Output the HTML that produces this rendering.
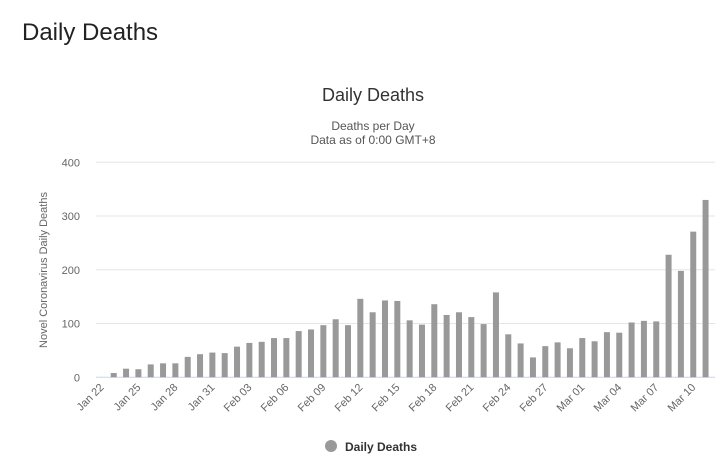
<!DOCTYPE html>
<html><head><meta charset="utf-8"><style>
body{margin:0;background:#fff;font-family:"Liberation Sans",sans-serif;}
#wrap{position:relative;width:723px;height:470px;overflow:hidden;}
h1{position:absolute;left:22px;top:19px;margin:0;font-size:24px;font-weight:normal;color:#222;}
</style></head><body>
<div id="wrap">
<h1>Daily Deaths</h1>
<svg id="chart" width="723" height="470" style="position:absolute;left:0;top:0"></svg>
</div>
<script>
const startDate = [2020, 0, 22];
const values = [0,8,16,15,24,26,26,38,43,46,45,57,64,66,73,73,86,89,97,108,97,146,121,143,142,106,98,136,116,121,112,99,158,80,63,37,58,65,54,73,67,84,83,102,105,104,228,198,271,330];
const yTicks = [0,100,200,300,400];
const NS="http://www.w3.org/2000/svg";
const svg=document.getElementById('chart');
const months=["Jan","Feb","Mar","Apr"];
const x0=101.4, step=12.33, yTop=162.3, yBot=377.3, yMax=400, left=96, right=715;
const xPos=i=>x0+i*step;
const yPos=v=>yBot-(v/yMax)*(yBot-yTop);
function mk(tag,attrs,text){const e=document.createElementNS(NS,tag);for(const k in attrs)e.setAttribute(k,attrs[k]);if(text!==undefined)e.textContent=text;svg.appendChild(e);return e;}
let e;
e=mk('text',{x:373,y:101,'text-anchor':'middle','font-size':18,fill:'#333'},'Daily Deaths');


e=mk('text',{x:373,y:130,'text-anchor':'middle','font-size':12,fill:'#555'},'Deaths per Day');


e=mk('text',{x:373,y:144,'text-anchor':'middle','font-size':12,fill:'#555'},'Data as of 0:00 GMT+8');


yTicks.forEach(t=>{
 const y=yPos(t);
 e=mk('line',{x1:left,x2:right,y1:y,y2:y,stroke:t===0?'#ccd6eb':'#e6e6e6','stroke-width':1});
 
 
 e=mk('text',{x:80,y:y+4,'text-anchor':'end','font-size':11,fill:'#666'},String(t));
 
 
});
e=mk('text',{x:0,y:0,'text-anchor':'middle','font-size':11,fill:'#666',transform:'translate(47,270) rotate(-90)'},'Novel Coronavirus Daily Deaths');


values.forEach((v,i)=>{
 const y=yPos(v);
 e=mk('rect',{x:xPos(i)-3,y:y,width:6,height:yBot-y,fill:'#999'});
 
 
});
values.forEach((v,i)=>{
 if(i%3!==0)return;
 const d=new Date(startDate[0],startDate[1],startDate[2]+i);
 const lbl=months[d.getMonth()]+' '+String(d.getDate()).padStart(2,'0');
 const x=xPos(i)+3,y=388;
 e=mk('text',{x:x,y:y,'text-anchor':'end','font-size':11,fill:'#666',transform:`rotate(-45 ${x} ${y})`},lbl);
 
 
});
e=mk('circle',{cx:331,cy:446,r:6,fill:'#999'});


e=mk('text',{x:345,y:451,'font-size':12,'font-weight':'bold',fill:'#333'},'Daily Deaths');


</script>
</body></html>
